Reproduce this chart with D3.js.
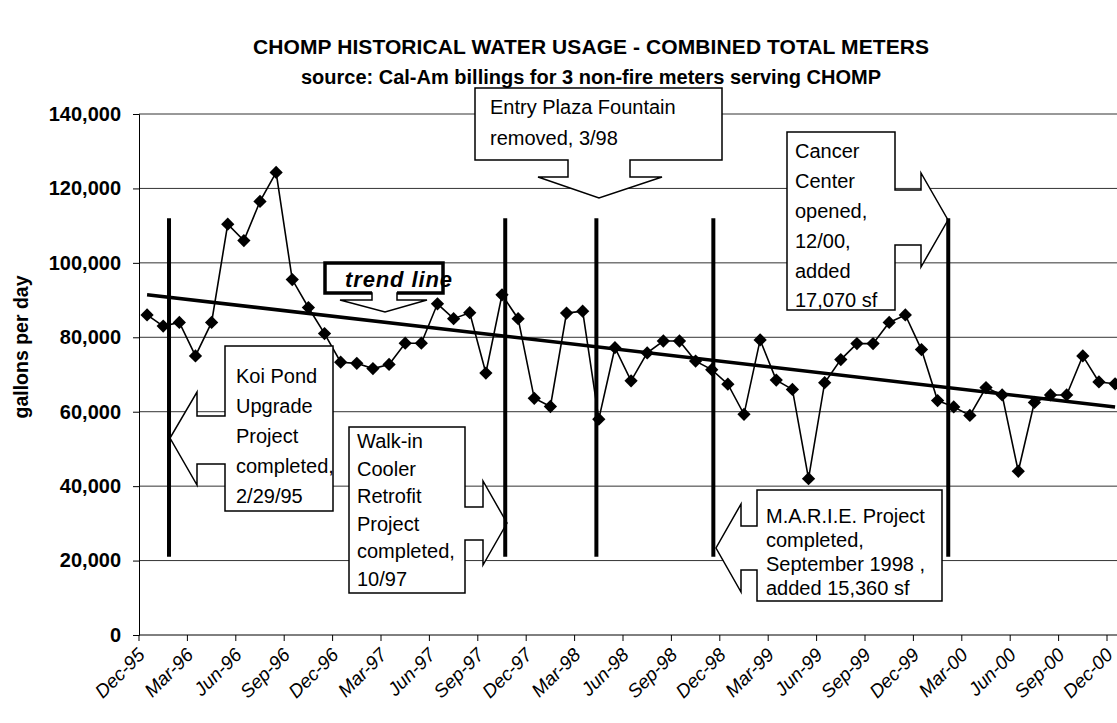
<!DOCTYPE html>
<html>
<head>
<meta charset="utf-8">
<script src="https://cdn.jsdelivr.net/npm/d3@7"></script>
<style>
  body { margin: 0; background: #fff; }
  text { font-family: "Liberation Sans", Arial, sans-serif; }
</style>
</head>
<body>
<div id="chart"></div>
<script>
// monthly usage, Dec-95 .. Dec-00 (gallons per day)
var usage = [
  86000, 83000, 84000, 75000, 84000, 110400, 106000, 116500, 124300, 95500,
  88000, 81000, 73300, 73000, 71600, 72700, 78400, 78400, 89000, 85000,
  86600, 70400, 91400, 85000, 63600, 61400, 86500, 87000, 58000, 77200,
  68300, 75800, 79000, 79000, 73600, 71300, 67400, 59300, 79300, 68500,
  66000, 42000, 67800, 74000, 78300, 78300, 84000, 86000, 76700, 63000,
  61300, 59000, 66500, 64500, 44000, 62500, 64500, 64500, 75000, 68000,
  67500
];

// one label every 3 months
var tickLabels = ["Dec-95", "Mar-96", "Jun-96", "Sep-96", "Dec-96", "Mar-97", "Jun-97",
  "Sep-97", "Dec-97", "Mar-98", "Jun-98", "Sep-98", "Dec-98", "Mar-99", "Jun-99",
  "Sep-99", "Dec-99", "Mar-00", "Jun-00", "Sep-00", "Dec-00"];

var yTicks = [0, 20000, 40000, 60000, 80000, 100000, 120000, 140000];

// event markers (position in months from Dec-95)
var eventNames = ["Koi Pond", "Walk-in Cooler", "Entry Plaza Fountain", "M.A.R.I.E.", "Cancer Center"];
var eventMonth = [1.36, 22.2, 27.85, 35.1, 49.66];
var eventTop = 112000;
var eventBottom = 21000;

var width = 1117,
    height = 723;

var svg = d3.select("#chart").append("svg")
    .attr("width", width)
    .attr("height", height);

svg.append("rect").attr("width", width).attr("height", height).attr("fill", "#fff");

// month index -> x ; categories are 16.13px wide, axis starts at left edge of Dec-95
var x = d3.scaleLinear().domain([-0.5, 60.5]).range([139, 139 + 61 * (968 / 60)]);
var y = d3.scaleLinear().domain([0, 140000]).range([635, 114]);

// gridlines
svg.selectAll("line.grid")
  .data(yTicks.slice(1))
  .enter()
  .append("line")
    .attr("class", "grid")
    .attr("x1", 139).attr("x2", width)
    .attr("y1", function(d){ return y(d) }).attr("y2", function(d){ return y(d) })
    .attr("stroke", "#333")
    .attr("stroke-width", 1);

// y axis
var yAxis = d3.axisLeft(y).tickValues(yTicks).tickSize(6).tickPadding(12)
    .tickFormat(d3.format(","));
var gy = svg.append("g").attr("transform", "translate(139,0)").call(yAxis);
gy.select(".domain").attr("stroke", "#000");
gy.selectAll("text")
  .style("font-family", "'Liberation Sans', Arial, sans-serif")
  .style("font-size", "20px")
  .style("font-weight", "bold")
  .attr("fill", "#000");

// x axis line + ticks every 3 months
svg.append("line")
  .attr("x1", 139).attr("x2", width).attr("y1", 635).attr("y2", 635)
  .attr("stroke", "#000");

svg.selectAll("line.xtick")
  .data(tickLabels)
  .enter()
  .append("line")
    .attr("x1", function(d,i){ return x(i * 3 - 0.5) })
    .attr("x2", function(d,i){ return x(i * 3 - 0.5) })
    .attr("y1", 635).attr("y2", 641)
    .attr("stroke", "#000");

svg.selectAll("text.xlab")
  .data(tickLabels)
  .enter()
  .append("text")
    .attr("transform", function(d,i){ return "translate(" + (x(i * 3) - 1) + ",656) rotate(-45)" })
    .attr("text-anchor", "end")
    .style("font-size", "19px")
    .style("font-style", "italic")
    .text(function(d){ return d });

// y title
svg.append("text")
  .attr("transform", "translate(28,347) rotate(-90)")
  .attr("text-anchor", "middle")
  .style("font-size", "19.5px")
  .style("font-weight", "bold")
  .text("gallons per day");

// titles
svg.append("text")
  .attr("x", 591).attr("y", 54)
  .attr("text-anchor", "middle")
  .style("font-size", "21px")
  .style("font-weight", "bold")
  .attr("textLength", 676)
  .text("CHOMP HISTORICAL WATER USAGE - COMBINED TOTAL METERS");

svg.append("text")
  .attr("x", 591).attr("y", 84)
  .attr("text-anchor", "middle")
  .style("font-size", "20px")
  .style("font-weight", "bold")
  .text("source: Cal-Am billings for 3 non-fire meters serving CHOMP");

// linear trend line (least squares over the data)
var n = usage.length;
var mx = d3.mean(usage, function(d,i){ return i });
var my = d3.mean(usage);
var sxy = d3.sum(usage, function(d,i){ return (i - mx) * (d - my) });
var sxx = d3.sum(usage, function(d,i){ return (i - mx) * (i - mx) });
var slope = sxy / sxx;
var icpt = my - slope * mx;

svg.append("line")
  .attr("x1", x(0)).attr("y1", y(icpt))
  .attr("x2", x(n - 1)).attr("y2", y(icpt + slope * (n - 1)))
  .attr("stroke", "#000")
  .attr("stroke-width", 3.5);

// data line + diamonds
var line = d3.line()
  .x(function(d,i){ return x(i) })
  .y(function(d){ return y(d) });

svg.append("path")
  .datum(usage)
  .attr("d", line)
  .attr("fill", "none")
  .attr("stroke", "#000")
  .attr("stroke-width", 1.6);

svg.selectAll("path.dot")
  .data(usage)
  .enter()
  .append("path")
    .attr("d", d3.symbol(d3.symbolSquare, 88))
    .attr("transform", function(d,i){ return "translate(" + x(i) + "," + y(d) + ") rotate(45)" })
    .attr("fill", "#000");

// callout shapes
var callouts = [
  { d: "M475,88 H722 V160 H630 V177 H662 L599,198 L538,177 H568 V160 H475 Z",
    tx: 490, lines: ["Entry Plaza Fountain", "removed, 3/98"], base: [114, 145] },
  { d: "M225,346 H333 V511 H225 V464 H197 V485 L170,438 L197,392 V416 H225 Z",
    tx: 236, lines: ["Koi Pond", "Upgrade", "Project", "completed,", "2/29/95"], base: [383, 413, 443, 473, 503] },
  { d: "M349,427 H465 V507 H483 V481 L507,523 L483,565 V540 H465 V593 H349 Z",
    tx: 357, lines: ["Walk-in", "Cooler", "Retrofit", "Project", "completed,", "10/97"], base: [448, 475.5, 503, 530.5, 558, 585.5] },
  { d: "M757,490 H942 V601 H757 V570 H741 V592 L716,548 L741,504 V526 H757 Z",
    tx: 766, lines: ["M.A.R.I.E. Project", "completed,", "September 1998 ,", "added 15,360 sf"], base: [523, 547, 571, 595] },
  { d: "M787,132 H895 V190 H921 V173 L948,220 L921,267 V245 H895 V310 H787 Z",
    tx: 795, lines: ["Cancer", "Center", "opened,", "12/00,", "added", "17,070 sf"], base: [158, 188, 218, 248, 278, 307] }
];

callouts.forEach(function(c) {
  svg.append("path")
    .attr("d", c.d)
    .attr("fill", "#fff")
    .attr("stroke", "#000")
    .attr("stroke-width", 1.5);
  c.lines.forEach(function(t, k) {
    svg.append("text")
      .attr("x", c.tx).attr("y", c.base[k])
      .style("font-size", "20px")
      .text(t);
  });
});

// event lines
svg.selectAll("line.event")
  .data(eventNames)
  .enter()
  .append("line")
    .attr("x1", function(d,i){ return x(eventMonth[i]) })
    .attr("x2", function(d,i){ return x(eventMonth[i]) })
    .attr("y1", y(eventTop))
    .attr("y2", y(eventBottom))
    .attr("stroke", "#000")
    .attr("stroke-width", 4);

// "trend line" callout
svg.append("path")
  .attr("d", "M325,263 H443 V293 H397 V300 H427 L385,312 L340,300 H372 V293 H325 Z")
  .attr("fill", "#fff")
  .attr("stroke", "#000")
  .attr("stroke-width", 1.5);
svg.append("path")
  .attr("d", "M372,293 H325 V263 H443 V293 H397")
  .attr("fill", "none")
  .attr("stroke", "#000")
  .attr("stroke-width", 3.5);
svg.append("text")
  .attr("x", 345).attr("y", 287)
  .style("font-size", "22px")
  .style("font-weight", "bold")
  .style("font-style", "italic")
  .attr("textLength", 107)
  .text("trend line");
</script>
</body>
</html>
